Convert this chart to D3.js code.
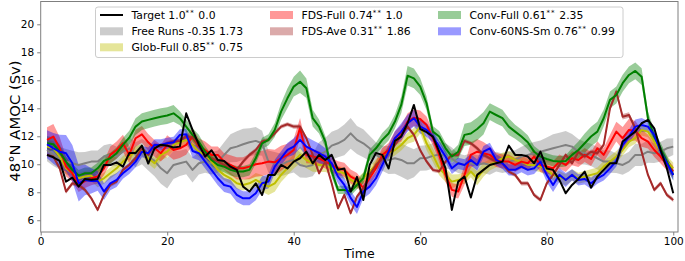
<!DOCTYPE html>
<html><head><meta charset="utf-8">
<script src="https://cdn.jsdelivr.net/npm/d3@7"></script>
<style>body{margin:0;background:#fff}svg{display:block}text{font-family:"DejaVu Sans",sans-serif;fill:#000}</style>
</head><body><svg id="c" width="685" height="261"></svg>
<script>
const timeSteps = d3.range(1, 101);

const target = [10.67,10.5,10.24,8.76,9.05,8.4,8.95,8.9,8.95,9.95,
9.95,10.14,9.83,10.8,10.8,11.33,10.05,11.14,11.4,11.33,
11.2,11.26,13.64,12.45,11.4,10.55,11.0,10.3,10.24,9.83,
9.6,8.4,8.05,8.64,7.8,9.24,9.24,9.95,9.7,10.19,
10.43,10.9,10.07,10.67,10.3,10.67,9.6,9.7,8.05,9.1,
7.45,9.95,10.8,10.67,9.7,11.67,11.98,12.93,14.24,12.52,
12.29,11.98,10.9,9.7,6.74,8.76,9.12,7.62,9.24,9.6,
9.95,10.07,10.19,11.33,10.67,10.67,10.55,10.07,10.9,9.7,
9.6,8.88,7.93,8.52,8.95,9.48,8.33,9.12,9.6,10.07,
10.07,11.62,11.98,12.33,12.93,13.17,12.57,11.02,9.7,7.93];

const freeRuns = [11.02,10.67,10.43,10.19,10.07,9.95,10.07,10.19,10.19,10.55,
10.67,10.55,10.9,11.14,10.67,10.9,10.55,10.24,9.71,9.36,
9.95,10.07,10.19,9.6,10.07,10.19,10.07,10.19,10.67,11.14,
11.26,11.43,11.57,11.67,11.5,10.19,10.07,9.95,10.19,10.31,
9.95,9.83,9.95,10.67,10.9,11.33,11.5,11.74,12.21,11.74,
11.5,11.14,10.67,10.43,10.31,10.43,10.31,10.07,10.07,10.43,
10.45,10.6,10.7,10.6,10.4,10.07,9.95,10.07,9.95,10.07,
9.95,10.19,10.07,10.19,10.31,10.55,10.67,10.79,10.9,11.02,
11.14,11.26,11.38,11.26,10.9,10.79,10.67,10.43,10.19,10.19,
10.07,9.95,10.19,10.67,10.67,10.9,10.79,10.9,11.14,11.26];
const freeRunsSpread = [0.8,0.8,0.8,0.9,0.9,0.9,0.8,0.8,0.8,0.8,
0.8,0.7,0.7,0.8,0.9,0.9,1.0,1.1,1.1,1.1,
1.0,0.9,0.9,0.9,0.8,0.8,0.8,0.8,0.9,1.0,
1.1,1.1,1.0,1.0,0.9,0.8,0.8,0.8,0.9,0.9,
0.9,0.8,0.8,0.9,1.0,1.0,1.0,1.1,1.1,1.0,
1.0,0.9,0.9,0.9,1.0,1.1,1.2,1.2,1.0,0.9,
0.9,0.9,0.9,0.9,0.8,0.7,0.7,0.7,0.7,0.7,
0.7,0.7,0.7,0.7,0.7,0.7,0.8,0.8,0.8,0.9,
1.0,1.0,1.0,0.9,0.9,0.8,0.8,0.8,0.8,0.8,
0.7,0.7,0.7,0.8,0.8,0.8,0.7,0.7,0.7,0.6];

const globFull = [11.26,11.14,10.55,9.71,9.36,9.0,9.12,9.19,8.76,9.0,
9.36,9.71,10.19,10.55,10.9,11.02,10.43,10.07,10.67,10.9,
11.38,11.57,11.74,11.38,10.9,10.67,10.19,9.6,9.24,9.0,
8.64,8.52,8.64,8.88,8.64,8.4,8.64,9.24,9.71,10.19,
10.67,10.31,10.07,9.95,9.95,9.71,9.48,9.36,8.88,8.64,
9.0,9.48,9.95,10.55,10.79,11.02,11.38,11.86,12.1,12.69,
11.5,10.67,9.71,9.24,8.76,8.88,9.0,9.48,9.0,9.6,
9.95,10.19,10.43,10.55,10.31,10.19,9.95,9.95,9.83,9.6,
9.24,9.12,8.88,9.24,9.0,9.12,9.24,9.36,9.83,10.19,
10.55,11.02,11.62,11.86,12.45,12.33,11.62,10.9,10.19,9.71];
const globFullSpread = [0.5,0.5,0.5,0.4,0.4,0.4,0.4,0.4,0.4,0.4,
0.4,0.4,0.4,0.4,0.4,0.4,0.4,0.4,0.4,0.4,
0.4,0.4,0.4,0.4,0.4,0.4,0.4,0.4,0.4,0.4,
0.4,0.4,0.4,0.5,0.6,0.6,0.6,0.5,0.5,0.5,
0.6,0.6,0.6,0.5,0.5,0.4,0.4,0.4,0.4,0.4,
0.4,0.4,0.4,0.4,0.4,0.4,0.4,0.4,0.5,0.5,
0.5,0.5,0.5,0.5,0.5,0.4,0.4,0.4,0.5,0.5,
0.4,0.4,0.4,0.4,0.4,0.4,0.4,0.4,0.4,0.4,
0.4,0.4,0.4,0.4,0.4,0.4,0.4,0.4,0.4,0.4,
0.4,0.4,0.4,0.4,0.4,0.4,0.4,0.4,0.4,0.4];

const fdsFull = [11.74,11.98,11.14,9.83,9.36,8.52,8.81,9.0,9.12,9.71,
10.67,11.02,11.5,10.67,11.86,12.14,11.57,11.14,10.79,11.38,
11.02,11.14,11.38,11.98,11.26,11.02,10.67,10.67,10.19,9.95,
9.71,9.71,9.83,10.0,10.07,10.19,10.14,10.43,10.67,11.02,
12.6,10.67,10.55,10.43,10.19,9.95,9.71,9.6,9.12,8.88,
8.29,9.0,9.71,10.67,11.02,11.86,12.21,13.05,13.33,13.24,
12.81,11.86,10.67,9.24,8.17,8.05,9.24,10.67,10.9,10.79,
10.67,10.31,10.19,10.19,9.95,10.19,10.07,10.55,9.95,9.83,
9.71,10.19,9.95,10.43,10.31,10.67,10.38,11.14,10.67,11.5,
12.33,11.86,12.45,12.4,11.86,11.62,11.02,10.55,9.95,9.48];
const fdsFullSpread = [0.9,0.9,0.8,0.7,0.6,0.5,0.5,0.5,0.5,0.5,
0.6,0.6,0.6,0.6,0.6,0.6,0.6,0.6,0.6,0.7,
0.7,0.7,0.7,0.6,0.6,0.6,0.6,0.6,0.6,0.7,
0.8,0.8,0.9,0.9,0.9,0.9,0.9,0.9,0.8,0.8,
0.7,0.6,0.5,0.5,0.5,0.5,0.5,0.5,0.5,0.5,
0.5,0.5,0.5,0.5,0.5,0.5,0.6,0.6,0.6,0.6,
0.6,0.5,0.5,0.5,0.5,0.5,0.7,0.9,0.9,0.8,
0.6,0.5,0.5,0.5,0.5,0.5,0.5,0.5,0.5,0.5,
0.5,0.5,0.5,0.5,0.5,0.5,0.5,0.5,0.5,0.6,
0.7,0.8,0.8,0.7,0.6,0.5,0.5,0.5,0.4,0.4];

const fdsAve = [10.67,10.55,9.71,8.05,8.64,8.52,8.17,7.57,6.74,7.81,
8.52,8.76,9.6,9.95,10.43,11.14,10.67,11.38,11.26,11.5,
11.62,11.67,12.0,11.9,11.38,10.67,10.43,10.19,9.95,9.71,
9.6,10.19,10.67,11.02,11.62,11.74,12.21,12.69,12.86,12.69,
12.69,11.86,10.67,9.36,10.19,8.64,6.86,7.81,6.5,7.69,
8.29,9.24,9.95,10.43,10.79,11.38,12.1,12.69,12.1,11.0,
10.2,9.6,9.5,10.19,10.67,10.67,11.67,11.5,11.14,10.67,
10.43,10.19,10.07,9.48,9.24,8.64,8.64,7.81,7.45,8.64,
9.24,9.95,10.67,10.07,10.9,10.55,10.9,10.79,11.38,14.0,
15.19,13.4,13.52,12.57,10.9,9.24,8.17,8.64,7.81,7.45];
const fdsAveSpread = [0.15,0.15,0.15,0.15,0.15,0.15,0.15,0.15,0.15,0.15,
0.15,0.15,0.15,0.15,0.15,0.15,0.15,0.15,0.15,0.15,
0.15,0.15,0.15,0.15,0.15,0.15,0.15,0.15,0.15,0.15,
0.15,0.15,0.15,0.15,0.15,0.15,0.15,0.15,0.15,0.15,
0.15,0.15,0.15,0.15,0.15,0.15,0.15,0.15,0.15,0.15,
0.15,0.15,0.15,0.15,0.15,0.15,0.15,0.15,0.15,0.15,
0.15,0.15,0.15,0.15,0.15,0.15,0.15,0.15,0.15,0.15,
0.15,0.15,0.15,0.15,0.15,0.15,0.15,0.15,0.15,0.15,
0.15,0.15,0.15,0.15,0.15,0.15,0.15,0.15,0.15,0.2,
0.2,0.2,0.2,0.15,0.15,0.15,0.15,0.15,0.15,0.15];

const convFull = [11.5,11.43,10.9,10.19,9.6,9.19,9.36,9.36,9.71,10.24,
10.43,10.79,11.38,11.9,12.69,13.05,13.17,13.29,13.4,13.48,
13.64,13.29,12.69,12.1,11.6,10.9,10.3,9.95,9.83,9.6,
9.48,9.48,9.6,10.43,11.5,11.74,12.45,13.76,14.71,15.55,
15.9,15.43,13.29,12.69,11.62,9.48,8.17,8.17,8.05,8.52,
9.0,10.67,11.14,11.74,12.2,13.05,14.24,16.33,16.14,15.55,
14.36,12.33,11.98,11.14,10.55,10.9,12.1,12.2,12.52,12.93,
13.76,13.52,13.29,12.69,12.33,11.98,11.57,10.9,10.55,10.38,
10.24,10.19,10.24,10.67,11.02,11.5,11.98,12.33,13.29,14.6,
14.95,15.79,16.38,16.67,16.26,13.29,11.98,11.14,10.19,9.24];
const convFullSpread = [0.5,0.5,0.5,0.4,0.4,0.4,0.4,0.4,0.4,0.4,
0.4,0.4,0.5,0.5,0.6,0.6,0.6,0.6,0.6,0.6,
0.6,0.5,0.5,0.5,0.5,0.4,0.4,0.4,0.4,0.4,
0.4,0.4,0.4,0.4,0.4,0.4,0.5,0.6,0.7,0.7,
0.8,0.7,0.6,0.5,0.4,0.4,0.3,0.3,0.3,0.3,
0.4,0.4,0.4,0.5,0.5,0.5,0.6,0.7,0.7,0.6,
0.5,0.4,0.4,0.4,0.4,0.5,0.8,0.8,0.8,0.8,
0.6,0.6,0.6,0.6,0.5,0.5,0.5,0.4,0.4,0.4,
0.4,0.4,0.4,0.5,0.6,0.7,0.7,0.7,0.6,0.6,
0.6,0.6,0.6,0.6,0.6,0.5,0.4,0.4,0.4,0.4];

const conv60 = [11.43,11.14,10.9,10.79,10.07,8.64,8.88,8.81,8.81,8.05,
8.64,8.88,9.36,9.71,10.19,10.9,10.79,11.38,11.38,11.5,
11.57,12.1,12.14,10.95,10.79,10.19,9.6,9.0,8.52,8.4,
7.81,7.57,7.57,7.93,8.64,8.76,9.83,10.43,11.02,11.26,
11.74,11.26,11.02,10.79,10.55,10.07,9.12,8.52,7.6,6.95,
8.05,8.4,9.0,9.95,10.9,11.86,12.33,12.93,13.29,12.69,
12.45,11.98,11.26,10.55,9.71,10.07,9.95,10.31,9.95,10.9,
11.14,10.31,10.07,9.6,9.6,9.83,9.6,9.71,10.19,9.24,
8.52,9.24,8.88,9.24,8.88,8.95,8.64,9.0,9.24,9.71,
10.24,11.38,11.98,12.69,12.81,12.69,12.1,10.9,10.07,9.24];
const conv60Spread = [1.0,1.1,1.2,1.3,1.3,1.3,1.1,0.9,0.7,0.6,
0.5,0.5,0.4,0.4,0.4,0.4,0.4,0.4,0.4,0.4,
0.4,0.4,0.4,0.5,0.5,0.5,0.5,0.5,0.5,0.5,
0.5,0.5,0.5,0.5,0.5,0.5,0.5,0.5,0.5,0.6,
0.6,0.7,0.7,0.7,0.6,0.5,0.5,0.5,0.5,0.5,
0.5,0.5,0.5,0.5,0.5,0.5,0.6,0.6,0.6,0.5,
0.5,0.4,0.4,0.4,0.4,0.4,0.4,0.4,0.4,0.4,
0.4,0.4,0.4,0.4,0.4,0.4,0.4,0.4,0.4,0.5,
0.5,0.5,0.5,0.4,0.4,0.4,0.4,0.4,0.4,0.4,
0.4,0.4,0.5,0.5,0.5,0.4,0.4,0.4,0.4,0.4];

const xTicks = [0, 20, 40, 60, 80, 100];
const yTicks = [6, 8, 10, 12, 14, 16, 18, 20];

// legend labels: [main, superscript, tail]
const legendLabels = [
  ["Target 1.0", "**", " 0.0"],
  ["Free Runs -0.35 1.73", "", ""],
  ["Glob-Full 0.85", "**", " 0.75"],
  ["FDS-Full 0.74", "**", " 1.0"],
  ["FDS-Ave 0.31", "**", " 1.86"],
  ["Conv-Full 0.61", "**", " 2.35"],
  ["Conv-60NS-Sm 0.76", "**", " 0.99"]
];

const series = [
  {mean: freeRuns, spread: freeRunsSpread, line: "#808080", band: "#808080", lw: 2},
  {mean: globFull, spread: globFullSpread, line: "#bfbf00", band: "#bfbf00", lw: 2},
  {mean: fdsFull, spread: fdsFullSpread, line: "#ff0000", band: "#ff0000", lw: 2},
  {mean: fdsAve, spread: fdsAveSpread, line: "#a52a2a", band: "#a52a2a", lw: 2},
  {mean: convFull, spread: convFullSpread, line: "#008000", band: "#008000", lw: 2},
  {mean: conv60, spread: conv60Spread, line: "#0000ff", band: "#0000ff", lw: 2}
];

const svg = d3.select("#c");
const L = 40.7, R = 678, T = 1.5, B = 232;
const x = d3.scaleLinear().domain([0, 100.75]).range([L, R]);
const y = d3.scaleLinear().domain([5.16, 21.63]).range([B, T]);

svg.append("defs").append("clipPath").attr("id", "clip")
  .append("rect").attr("x", L).attr("y", T).attr("width", R - L).attr("height", B - T);

const plot = svg.append("g").attr("clip-path", "url(#clip)");

const area = (m, s) => d3.area()
  .x((d, i) => x(timeSteps[i]))
  .y0((d, i) => y(m[i] - s[i]))
  .y1((d, i) => y(m[i] + s[i]));
const line = d3.line().x((d, i) => x(timeSteps[i])).y(d => y(d));

series.forEach(s => {
  plot.append("path").datum(s.mean).attr("d", area(s.mean, s.spread))
    .attr("fill", s.band).attr("fill-opacity", 0.4).attr("stroke", "none");
});
series.forEach(s => {
  plot.append("path").datum(s.mean).attr("d", line)
    .attr("fill", "none").attr("stroke", s.line).attr("stroke-width", s.lw)
    .attr("stroke-linejoin", "round");
});
plot.append("path").datum(target).attr("d", line)
  .attr("fill", "none").attr("stroke", "#000").attr("stroke-width", 2).attr("stroke-linejoin", "round");

// frame
const spine = "#7f7f7f";
svg.append("rect").attr("x", L).attr("y", T).attr("width", R - L).attr("height", B - T)
  .attr("fill", "none").attr("stroke", spine).attr("stroke-width", 1);

// axes
const xAxis = svg.append("g").attr("transform", `translate(0,${B})`)
  .call(d3.axisBottom(x).tickValues(xTicks).tickSize(3.5).tickPadding(2.5));
const yAxis = svg.append("g").attr("transform", `translate(${L},0)`)
  .call(d3.axisLeft(y).tickValues(yTicks).tickSize(3.5).tickPadding(3));
[xAxis, yAxis].forEach(a => {
  a.select(".domain").remove();
  a.selectAll("line").attr("stroke", spine);
  a.selectAll("text").attr("font-size", "10.5px").attr("font-family", "DejaVu Sans").attr("fill", "#000");
});

svg.append("text").attr("x", (L + R) / 2).attr("y", 257.5).attr("text-anchor", "middle")
  .attr("font-size", "12.5px").text("Time");
svg.append("text").attr("transform", `translate(19.5,121) rotate(-90)`)
  .attr("text-anchor", "middle").attr("font-size", "14.8px").text("48°N AMOC (Sv)");

// legend
const lg = svg.append("g");
lg.append("rect").attr("x", 95.5).attr("y", 7).attr("width", 527.5).attr("height", 50.5)
  .attr("rx", 2.5).attr("fill", "#fff").attr("fill-opacity", 0.8).attr("stroke", "#cccccc").attr("stroke-width", 1);
const colX = [100, 270, 438];
const rowY = [15, 31.3, 47.3];
const slots = [[0,0],[0,1],[0,2],[1,0],[1,1],[2,0],[2,1]];
const handleColors = ["#000", "#808080", "#bfbf00", "#ff0000", "#a52a2a", "#008000", "#0000ff"];
legendLabels.forEach((lab, i) => {
  const [c, r] = slots[i];
  const hx = colX[c], cy = rowY[r];
  if (i === 0) {
    lg.append("line").attr("x1", hx).attr("x2", hx + 23).attr("y1", cy).attr("y2", cy)
      .attr("stroke", "#000").attr("stroke-width", 2);
  } else {
    lg.append("rect").attr("x", hx).attr("y", cy - 4).attr("width", 23).attr("height", 8)
      .attr("fill", handleColors[i]).attr("fill-opacity", 0.4);
  }
  const t = lg.append("text").attr("x", hx + 31.5).attr("y", cy + 3.9).attr("font-size", "10.8px");
  t.append("tspan").text(lab[0]);
  if (lab[1]) {
    t.append("tspan").attr("dy", -4).attr("font-size", "7px").attr("letter-spacing", "1.2px").text(lab[1]);
    t.append("tspan").attr("dy", 4).text(lab[2]);
  }
});
</script></body></html>
